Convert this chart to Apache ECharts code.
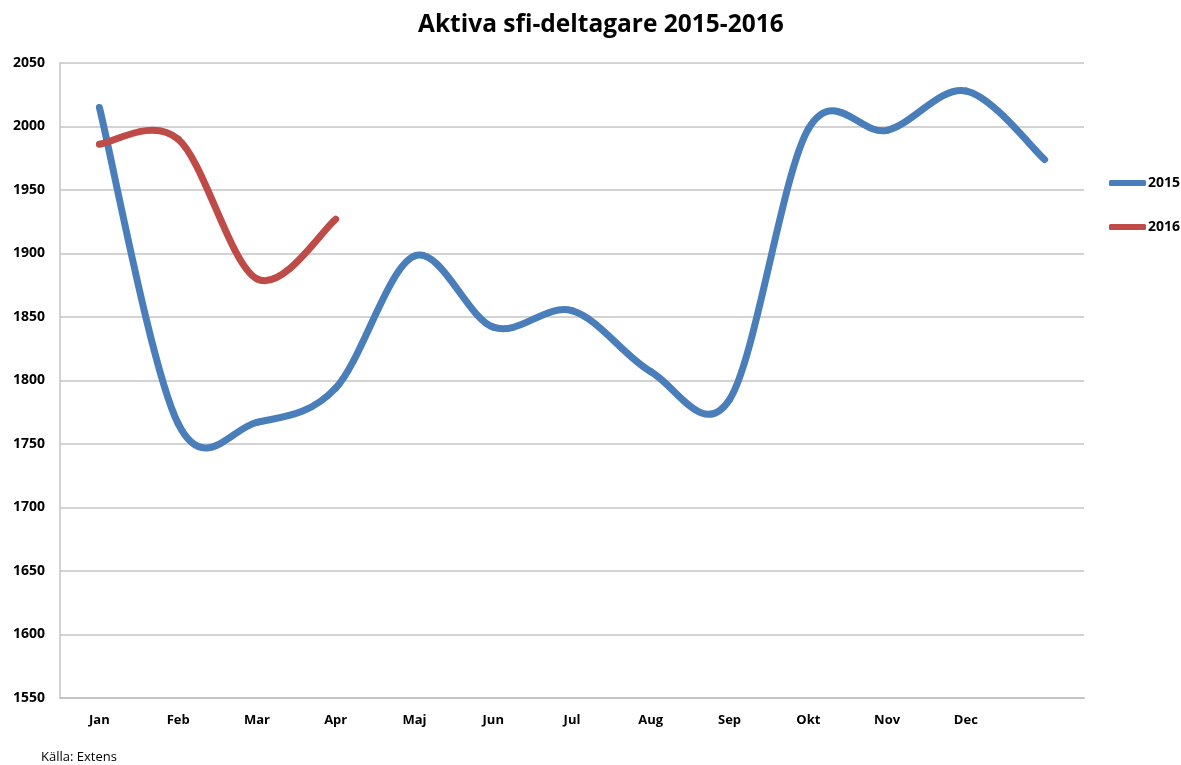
<!DOCTYPE html>
<html>
<head>
<meta charset="utf-8">
<script src="https://cdn.jsdelivr.net/npm/echarts@6/dist/echarts.min.js"></script>
<style>
  html, body { margin: 0; padding: 0; background: #fff; }
  #chart { width: 1181px; height: 765px; }
</style>
</head>
<body>
<div id="chart"></div>
<script>
(function () {
  'use strict';

  // månader (sista kategorin saknar etikett i originalet)
  const months = ['Jan', 'Feb', 'Mar', 'Apr', 'Maj', 'Jun', 'Jul', 'Aug', 'Sep', 'Okt', 'Nov', 'Dec', ''];
  const values2015 = [2015, 1766, 1767, 1794, 1898, 1842, 1855, 1807, 1785, 1998, 1997, 2028, 1974];
  const values2016 = [1986, 1990, 1880, 1927];
  const yTicks = { min: 1550, max: 2050, interval: 50 };

  const font = '"Open Sans", "DejaVu Sans", sans-serif';
  const chart = echarts.init(document.getElementById('chart'));

  // Excel-liknande utjämning: ett Bezier-segment per datapunkt (Catmull-Rom)
  function smoothSeries(name, values, color) {
    return {
      name: name,
      type: 'custom',
      coordinateSystem: 'cartesian2d',
      itemStyle: { color: color },
      encode: { x: 0, y: 1 },
      data: values.map((v, i) => [i, v]),
      renderItem: function (params, api) {
        const i = params.dataIndex;
        if (i >= values.length - 1) return null;
        const pt = k => {
          const j = Math.max(0, Math.min(values.length - 1, k));
          return api.coord([j, values[j]]);
        };
        const p0 = pt(i - 1), p1 = pt(i), p2 = pt(i + 1), p3 = pt(i + 2);
        return {
          type: 'bezierCurve',
          shape: {
            x1: p1[0], y1: p1[1],
            cpx1: p1[0] + (p2[0] - p0[0]) / 6, cpy1: p1[1] + (p2[1] - p0[1]) / 6,
            cpx2: p2[0] - (p3[0] - p1[0]) / 6, cpy2: p2[1] - (p3[1] - p1[1]) / 6,
            x2: p2[0], y2: p2[1]
          },
          style: { stroke: color, fill: null, lineWidth: 7, lineCap: 'round' }
        };
      }
    };
  }

  chart.setOption({
    animation: false,
    backgroundColor: '#fff',
    title: [
      {
        text: 'Aktiva sfi-deltagare 2015-2016',
        left: 413, top: 8,
        textStyle: { fontFamily: font, fontSize: 24.5, fontWeight: 'bold', color: '#000' }
      },
      {
        text: 'Källa: Extens',
        left: 36, top: 746,
        textStyle: { fontFamily: font, fontSize: 13, fontWeight: 'normal', color: '#000' }
      }
    ],
    legend: {
      orient: 'vertical',
      left: 1104, top: 171,
      itemWidth: 37, itemHeight: 6, itemGap: 30,
      icon: 'roundRect',
      textStyle: { fontFamily: font, fontSize: 14, fontWeight: 'bold', color: '#000', padding: [0, 0, 0, -3] },
      data: ['2015', '2016']
    },
    grid: { left: 60, right: 97, top: 63, bottom: 67 },
    xAxis: {
      type: 'category',
      data: months,
      boundaryGap: true,
      axisLine: { lineStyle: { color: '#c4c4c4', width: 2 } },
      axisTick: { show: false },
      axisLabel: { fontFamily: font, fontSize: 13, fontWeight: 'bold', color: '#000', margin: 16, interval: 0 }
    },
    yAxis: {
      type: 'value',
      min: yTicks.min, max: yTicks.max, interval: yTicks.interval,
      axisLine: { show: true, lineStyle: { color: '#c4c4c4', width: 1.5 } },
      axisTick: { show: false },
      axisLabel: { fontFamily: font, fontSize: 14, fontWeight: 'bold', color: '#000', margin: 15, formatter: v => String(v) },
      splitLine: { lineStyle: { color: '#c4c4c4', width: 1.5 } }
    },
    series: [
      smoothSeries('2015', values2015, '#4a7ebb'),
      smoothSeries('2016', values2016, '#be4b48')
    ]
  });

  window.addEventListener('resize', () => chart.resize());
})();
</script>
</body>
</html>
